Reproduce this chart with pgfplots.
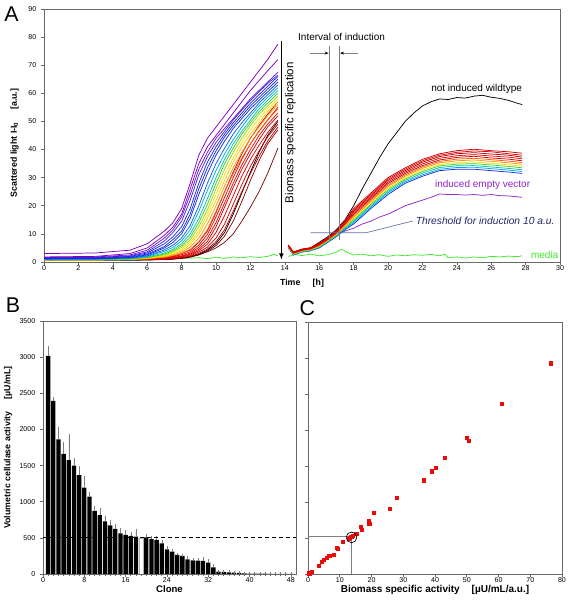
\documentclass[border=0pt]{standalone}
\usepackage{fontspec}
\setmainfont{Liberation Sans}
\usepackage{pgfplots}
\usepackage{pgfplotstable}
\pgfplotsset{compat=1.18}
\usetikzlibrary{arrows.meta}

\definecolor{cpur}{RGB}{125,0,190}
\definecolor{cpur2}{RGB}{105,20,210}
\definecolor{cvb}{RGB}{70,30,225}
\definecolor{cblue}{RGB}{20,40,235}
\definecolor{cblue2}{RGB}{0,95,230}
\definecolor{ccyan}{RGB}{0,165,225}
\definecolor{cteal}{RGB}{0,195,170}
\definecolor{cgreen}{RGB}{60,205,40}
\definecolor{clime}{RGB}{150,222,0}
\definecolor{cyel}{RGB}{245,225,0}
\definecolor{cyel2}{RGB}{255,200,0}
\definecolor{corange}{RGB}{255,150,0}
\definecolor{corred}{RGB}{255,90,0}
\definecolor{cred}{RGB}{235,0,0}
\definecolor{cred2}{RGB}{205,0,0}
\definecolor{cred3}{RGB}{175,0,0}
\definecolor{cdred}{RGB}{140,0,0}
\definecolor{cmaroon}{RGB}{115,10,10}
\definecolor{cmedia}{RGB}{60,232,40}
\definecolor{cvec}{RGB}{145,35,205}
\definecolor{cthr}{RGB}{35,35,105}
\definecolor{cthrl}{RGB}{100,110,170}
\definecolor{cframe}{RGB}{105,105,105}
\definecolor{cscat}{RGB}{235,10,10}

\newcommand\tickfont{\fontsize{5.3}{6}\selectfont}
\newcommand\labfont{\fontsize{6.6}{7.5}\selectfont\bfseries}
\newcommand\annfont{\fontsize{7.5}{8.5}\selectfont}

\pgfplotstableread{
t p1 p2 p3 p4 b1 b2 b3 c1 c2 g1 g2 g3 y1 y2 o1 o2 r1 r2 r3 r4 r5 r6 r7 k1 d1 d2
0 3.0 1.8 1.6 1.5 1.4 1.2 1.2 1.0 1.0 0.9 0.8 0.8 0.8 0.7 0.7 0.7 1.6 1.5 1.4 1.3 1.3 1.2 1.1 0.6 1.0 1.0
3 3.2 2.0 1.8 1.6 1.5 1.3 1.2 1.1 1.0 1.0 0.9 0.8 0.8 0.7 0.7 0.7 1.5 1.4 1.3 1.3 1.2 1.2 1.1 0.6 1.0 1.0
5 4.2 3.0 2.5 2.2 2.0 1.8 1.6 1.4 1.3 1.2 1.1 1.0 1.0 0.9 0.9 0.9 1.3 1.2 1.1 1.0 1.0 1.0 0.9 0.6 0.8 0.9
6 6.5 5.0 4.2 3.6 3.2 2.8 2.5 2.2 2.0 1.8 1.6 1.5 1.4 1.3 1.2 1.1 1.2 1.1 1.0 1.0 0.9 0.9 0.9 0.7 0.8 0.8
7 11 9.5 8.5 7.5 6.5 5.5 5 4.3 3.8 3.2 2.8 2.5 2.2 2.0 1.8 1.6 1.5 1.4 1.3 1.2 1.1 1.0 1.0 0.9 0.9 0.9
7.5 14 12.5 11.5 10.5 9 8 7 6 5.2 4.5 4 3.6 3.2 2.8 2.5 2.2 2.0 1.8 1.6 1.5 1.4 1.3 1.2 1.1 1.1 1.0
8 19 17 16 14.5 12.5 11 10 8.5 7.5 6.5 5.8 5.2 4.6 4.0 3.5 3.0 3.0 2.6 2.2 2.0 1.8 1.6 1.5 1.4 1.3 1.3
8.5 28 26 24 22 19 17 15.5 13 11.5 10 8.8 7.8 7 6.2 5.3 4.5 4.2 3.6 3.1 2.8 2.5 2.2 2.0 1.9 1.7 1.8
9 38 35 33 31 28 26 24 20 18 15.5 14 12.5 11 10 8.5 7.2 7 6 5.2 4.5 4.0 3.5 3.0 2.8 2.6 2.5
9.5 44 41 39 37.5 35.5 33.5 31.5 28 25.5 22.5 20.5 18.5 17 15.5 13.5 11.5 11 9.8 8.5 7.3 6.3 5.3 4.6 4.2 3.8 3.6
10 48 45 44 42.5 41 39.5 38 35 32.5 30 28 26 24 22 20 18 17.5 16 14 12.5 10.5 8.5 7.2 6.5 5.8 5
10.5 52 49 47.5 46.5 45.5 44.5 43 40.5 38.5 36.5 35 33 31 29 27 25 25 23 21 19.5 16.5 13.5 11.5 10.5 9.2 7
11 56 53 51 50.5 49.5 48.5 47.5 45.5 43.5 42 40.5 39 37 35.5 33.5 31.5 32 30 28 26.5 23.5 20.5 18 17 14.5 10
11.5 60 57 54.5 54 53 52 51 49.5 48 46.5 45.5 44 42.5 41 39 37 38.5 36.5 34.5 33 30.5 27.5 25 24.5 21.5 14.5
12 64 61 58 57.5 56.5 55.5 54.5 53 52 50.5 49.5 48.5 47 45.5 44 42 44 42 40 38.5 36.5 34 31.5 32 29 19.5
12.5 68 64.5 61 60.5 59.5 58.5 57.5 56.5 55.5 54.5 53.5 52.5 51 49.5 48 46.5 48.5 46.5 45 43.5 41.5 39.5 37.5 39 36 25
13 72 68 64 63.5 62.5 61.5 60.5 59.5 58.5 57.5 56.5 55.5 54.5 53.5 52 50.5 52.5 50.5 49 48 46 44.5 43 45 42 31.5
13.6 77.5 72 67.5 66.5 66 65 64 63 62 61 60 59 58 57 56 54.5 57 55 53 52 50.5 49 48 50 47 40.5
}\segA

\pgfplotstableread{
t bl cy te gr ye or orr re rd rc rb ra
14.2 5.0 5.1 5.2 5.3 5.4 5.5 5.6 5.7 5.8 5.9 6.0 6.1
14.5 2.5 2.6 2.7 2.8 2.9 3.0 3.1 3.2 3.3 3.4 3.5 3.6
15 3.5 3.6 3.7 3.8 3.9 4.0 4.1 4.2 4.3 4.4 4.5 4.6
15.5 4.0 4.1 4.2 4.3 4.4 4.5 4.6 4.7 4.8 4.9 5.0 5.1
16 5.0 5.2 5.3 5.5 5.6 5.8 5.9 6.1 6.2 6.4 6.5 6.7
16.5 7.0 7.2 7.3 7.5 7.6 7.8 7.9 8.1 8.2 8.4 8.5 8.7
17 9.0 9.2 9.4 9.6 9.8 10.0 10.2 10.4 10.6 10.8 11.0 11.2
17.5 11.5 11.8 12.1 12.4 12.7 13.0 13.3 13.6 13.9 14.2 14.5 14.8
18 13.5 14.0 14.5 15.0 15.5 16.0 16.5 17.0 17.5 18.0 18.5 19.0
19 19.0 19.5 20.0 20.5 21.0 21.5 22.0 22.5 23.0 23.5 24.0 24.5
20 24.0 24.6 25.1 25.7 26.2 26.8 27.3 27.9 28.4 29.0 29.5 30.0
21 28.0 28.5 29.0 29.5 30.0 30.5 31.0 31.5 32.0 32.5 33.0 33.5
22 30.5 31.0 31.6 32.2 32.7 33.3 33.8 34.3 34.9 35.5 36.0 36.5
23 32.5 33.0 33.6 34.2 34.7 35.3 35.8 36.3 36.9 37.5 38.0 38.5
24 33.0 33.6 34.2 34.8 35.4 36.0 36.6 37.2 37.8 38.5 39.0 39.6
25 33.0 33.7 34.3 35.0 35.6 36.3 36.9 37.6 38.2 38.9 39.5 40.1
26 32.5 33.2 33.8 34.5 35.1 35.8 36.4 37.0 37.7 38.4 39.2 39.6
27 32.0 32.7 33.3 34.0 34.6 35.3 35.9 36.6 37.3 38.0 38.5 39.2
27.8 31.5 32.2 32.8 33.5 34.1 34.8 35.4 36.0 36.7 37.3 38.0 38.7
}\segB

\pgfplotstableread{
c v e
1 3019 120
2 2396 37
3 1861 156
4 1662 148
5 1574 342
6 1500 88
7 1367 106
8 1196 134
9 1071 46
10 873 50
11 815 74
12 728 55
13 672 51
14 625 45
15 563 50
16 540 45
17 527 40
18 518 80
20 505 25
21 482 30
22 471 35
23 425 30
24 340 25
25 309 20
26 265 12
27 250 10
28 203 20
29 188 15
30 185 15
31 180 30
32 157 25
33 92 25
34 32 8
35 28 6
36 24 6
37 20 6
38 14 4
39 10 4
40 6 3
41 5 3
42 4 2
43 4 2
44 3 2
45 3 2
46 2 1
47 2 1
48 2 1
}\barsB

\pgfplotsset{
  panel/.style={
    scale only axis,
    axis line style={cframe, line width=0.55pt},
    tick style={cframe, line width=0.45pt},
    tick align=outside,
    tick pos=left,
    major tick length=2.3pt,
    minor tick length=1.4pt,
    tick label style={font=\tickfont},
    /pgf/number format/assume math mode=true,
    /pgf/number format/1000 sep={},
    label style={font=\labfont},
    xticklabel style={yshift=3.2pt},
  },
  curve/.style={line width=0.55pt, mark=none},
}

\begin{document}
\begin{tikzpicture}
\useasboundingbox (0,0) rectangle (425.25pt,453.75pt);

% ---------------- Panel A ----------------
\begin{axis}[panel,
  at={(33pt,257.25pt)}, anchor=south west,
  width=387pt, height=189.75pt,
  xmin=0, xmax=30, ymin=0, ymax=90,
  xtick={0,2,...,30}, ytick={0,10,...,90},
  xlabel={Time\hspace{1.4em}[h]},
  ylabel={Scattered light I-I\textsubscript{0}\hspace{1.4em}[a.u.]},
  xlabel style={at={(axis description cs:0.5,-0.083)}, anchor=center},
  ylabel style={at={(axis description cs:-0.057,0.47)}, anchor=center},
]
% segment 1
\addplot[curve, cmedia] coordinates {(0,0.8)(1,0.6)(2,0.7)(3,0.6)(4,0.8)(5,0.9)(6,1.0)(7,1.2)(7.5,1.6)(8,1.3)(9,1.5)(9.5,1.2)(10,1.7)(10.5,1.3)(11,1.8)(11.5,1.5)(12,1.9)(12.5,1.6)(13,2.0)(13.4,2.7)(13.6,2.1)};
\addplot[curve, cmaroon] table[x=t,y=d2] {\segA};
\addplot[curve, cdred] table[x=t,y=d1] {\segA};
\addplot[curve, black] table[x=t,y=k1] {\segA};
\addplot[curve, cred3] table[x=t,y=r7] {\segA};
\addplot[curve, cred2] table[x=t,y=r6] {\segA};
\addplot[curve, cred] table[x=t,y=r5] {\segA};
\addplot[curve, cred2] table[x=t,y=r4] {\segA};
\addplot[curve, cred] table[x=t,y=r3] {\segA};
\addplot[curve, cred] table[x=t,y=r2] {\segA};
\addplot[curve, cred2] table[x=t,y=r1] {\segA};
\addplot[curve, corred] table[x=t,y=o2] {\segA};
\addplot[curve, corange] table[x=t,y=o1] {\segA};
\addplot[curve, cyel2] table[x=t,y=y2] {\segA};
\addplot[curve, cyel] table[x=t,y=y1] {\segA};
\addplot[curve, clime] table[x=t,y=g3] {\segA};
\addplot[curve, cgreen] table[x=t,y=g2] {\segA};
\addplot[curve, cteal] table[x=t,y=g1] {\segA};
\addplot[curve, ccyan] table[x=t,y=c2] {\segA};
\addplot[curve, cblue2] table[x=t,y=c1] {\segA};
\addplot[curve, cblue] table[x=t,y=b3] {\segA};
\addplot[curve, cblue] table[x=t,y=b2] {\segA};
\addplot[curve, cblue] table[x=t,y=b1] {\segA};
\addplot[curve, cvb] table[x=t,y=p4] {\segA};
\addplot[curve, cpur2] table[x=t,y=p3] {\segA};
\addplot[curve, cpur] table[x=t,y=p2] {\segA};
\addplot[curve, cpur] table[x=t,y=p1] {\segA};
% big arrow
\addplot[black, line width=1pt, -{Latex[length=5pt,width=3.6pt]}] coordinates {(13.8,78.6)(13.8,0.7)};
\node[rotate=90, font=\fontsize{8.6}{9}\selectfont] at (axis cs:14.32,46) {Biomass specific replication};
% segment 2
\addplot[curve, cmedia] coordinates {(14.2,2)(14.6,2.6)(15,2.3)(15.5,2.8)(16,2.2)(16.5,2.6)(17,3.5)(17.3,4.6)(17.6,3.5)(18,2.5)(18.5,2.8)(19,2.2)(19.5,2.6)(20,2.0)(20.5,2.5)(21,2.2)(21.5,2.6)(22,2.4)(22.5,2.7)(23,2.2)(23.3,2.8)(23.5,1.5)(24,1.8)(24.5,1.4)(25,1.8)(25.5,1.5)(26,2.0)(26.5,1.8)(27,2.1)(27.5,1.9)(27.8,2.2)};
\addplot[curve, cvec] coordinates {(14.2,5.5)(14.5,3)(15,4)(15.5,4.5)(16,6)(16.5,8)(17,9.8)(17.5,11)(18,12)(18.5,13.5)(19,14.5)(19.5,16)(20,17)(20.5,18.5)(21,20)(21.5,21)(22,22)(22.5,23)(23,24.2)(23.5,24)(24,24)(24.5,23.8)(25,24)(25.5,23.7)(26,24)(26.5,23.6)(27,23.5)(27.5,23.2)(27.8,23)};
\addplot[curve, black] coordinates {(14.2,5.5)(14.5,3.5)(15,4.5)(15.5,5)(16,7)(16.5,9)(17,11.5)(17.5,15)(18,20)(18.5,26)(19,31.5)(19.5,37)(20,42)(20.5,46)(21,50)(21.5,53)(22,55.5)(22.5,57)(23,58)(23.5,57.8)(24,58.5)(24.5,58.3)(25,59)(25.5,59.3)(26,58.6)(26.5,58.2)(27,57.5)(27.5,56.5)(27.8,56)};
\addplot[curve, cblue] table[x=t,y=bl] {\segB};
\addplot[curve, ccyan] table[x=t,y=cy] {\segB};
\addplot[curve, cteal] table[x=t,y=te] {\segB};
\addplot[curve, cgreen] table[x=t,y=gr] {\segB};
\addplot[curve, cyel] table[x=t,y=ye] {\segB};
\addplot[curve, corange] table[x=t,y=or] {\segB};
\addplot[curve, corred] table[x=t,y=orr] {\segB};
\addplot[curve, cred2] table[x=t,y=re] {\segB};
\addplot[curve, cred] table[x=t,y=rd] {\segB};
\addplot[curve, cred3] table[x=t,y=rc] {\segB};
\addplot[curve, cred] table[x=t,y=rb] {\segB};
\addplot[curve, cred2] table[x=t,y=ra] {\segB};
% annotations
\addplot[gray, line width=0.6pt] coordinates {(16.57,76.9)(16.57,8)};
\addplot[gray, line width=0.6pt] coordinates {(17.19,76.9)(17.19,8)};
\addplot[gray, line width=0.4pt, -{Stealth[length=3pt,width=2.2pt,black]}] coordinates {(15.45,74.3)(16.55,74.3)};
\addplot[gray, line width=0.4pt, -{Stealth[length=3pt,width=2.2pt,black]}] coordinates {(18.25,74.3)(17.21,74.3)};
\node[font=\annfont] at (axis cs:17.3,79.9) {Interval of induction};
\addplot[cthrl, line width=0.5pt] coordinates {(15.5,10.4)(18.72,10.4)(21.45,14.6)};
\node[font=\fontsize{7.7}{8.5}\selectfont\itshape, text=cthr, anchor=west, inner sep=0pt] at (axis cs:21.6,14.8) {Threshold for induction 10 a.u.};
\node[font=\annfont] at (axis cs:25.15,61.6) {not induced wildtype};
\node[font=\annfont, text=cvec] at (axis cs:25.5,27.4) {induced empty vector};
\node[font=\annfont, text=cmedia, anchor=west, inner sep=0pt] at (axis cs:28.3,2.6) {media};
\end{axis}

% ---------------- Panel B ----------------
\begin{axis}[panel,
  at={(32.25pt,23.25pt)}, anchor=south west,
  width=189.75pt, height=189.75pt,
  xmin=0, xmax=49, ymin=0, ymax=3500,
  xtick={0,8,...,48}, minor x tick num=7,
  ytick={0,500,...,3500},
  xlabel={Clone},
  ylabel={Volumetric cellulase activity\hspace{1.4em}[µU/mL]},
  xlabel style={at={(axis description cs:0.5,-0.06)}, anchor=center, font=\fontsize{7.2}{8}\selectfont\bfseries},
  ylabel style={at={(axis description cs:-0.138,0.5)}, anchor=center},
]
\addplot[ybar, bar shift=0pt, bar width=3.25pt, fill=black, draw=none,
  error bars/.cd, y dir=plus, y explicit,
  error bar style={gray, line width=0.35pt},
  error mark options={gray, mark size=1.1pt, line width=0.35pt}]
  table[x=c, y=v, y error=e] {\barsB};
\addplot[ybar, bar shift=0pt, bar width=3.25pt, fill=white, draw=gray!60, line width=0.3pt] coordinates {(19,500)};
\addplot[black, line width=0.8pt, dash pattern=on 3pt off 2.2pt] coordinates {(0,500)(49,500)};
\end{axis}

% ---------------- Panel C ----------------
\begin{axis}[panel,
  at={(231pt,23.25pt)}, anchor=south west,
  width=190.5pt, height=189pt,
  xmin=0, xmax=80, ymin=0, ymax=3500,
  xtick={0,10,...,80}, ytick={0,500,...,3500}, yticklabels={},
  xlabel={Biomass specific activity\hspace{1.2em}[µU/mL/a.u.]},
  xlabel style={at={(axis description cs:0.5,-0.062)}, anchor=center, font=\fontsize{7.5}{8}\selectfont\bfseries},
]
\addplot[gray, line width=0.5pt] coordinates {(0,517)(13.8,517)(13.8,0)};
\addplot[only marks, mark=square*, mark size=1.15pt, color=cscat] coordinates {
(76.6,2927)(60.9,2359)(49.9,1893)(50.7,1856)(43.0,1611)(40.1,1473)(38.9,1427)(36.5,1302)
(28.0,1053)(25.8,910)(20.8,845)(19.1,739)(19.3,702)(16.6,660)(16.8,609)(15.2,559)
(14.0,535)(13.4,515)(13.9,520)(13.2,500)(12.9,485)(10.9,448)(9.2,370)(9.3,346)
(8.0,272)(7.0,254)(6.6,250)(5.8,222)(5.05,199)(4.4,171)(3.3,115)(1.05,37)(0.4,23)(0.3,15)(0.6,10)(0.2,5)};
\addplot[only marks, mark=o, mark size=4pt, mark options={black, line width=0.5pt}] coordinates {(13.7,508)};
\end{axis}

% panel letters
\node[font=\fontsize{16}{16}\selectfont] at (8.6pt,443pt) {A};
\node[font=\fontsize{16}{16}\selectfont] at (9.8pt,224.5pt) {B};
\node[font=\fontsize{16}{16}\selectfont] at (230.5pt,223pt) {C};
\end{tikzpicture}
\end{document}
